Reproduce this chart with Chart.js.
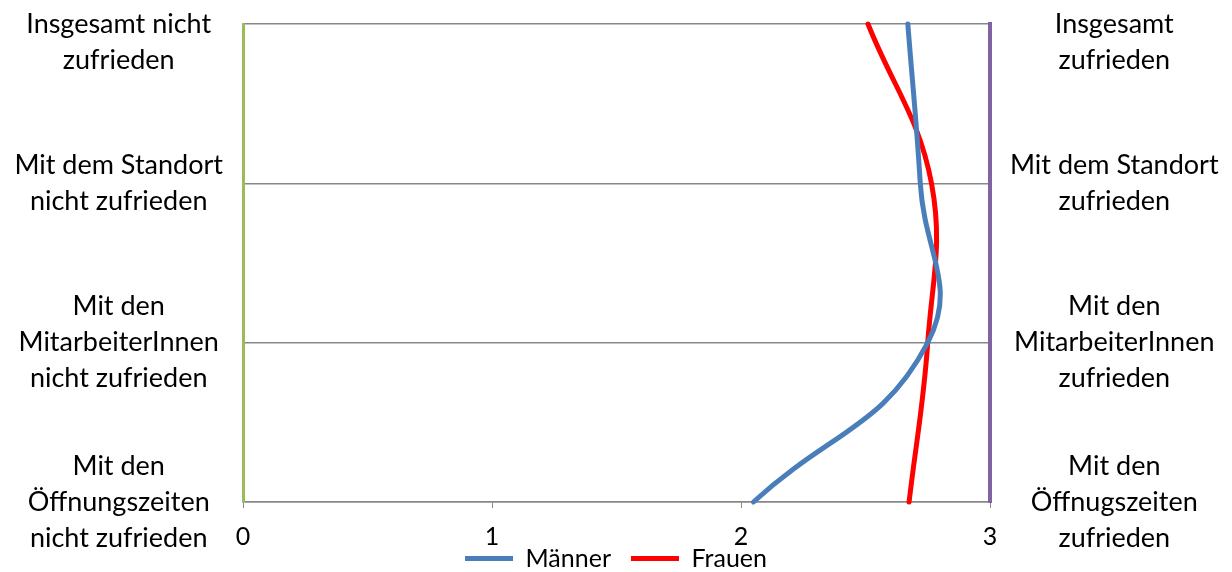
<!DOCTYPE html>
<html>
<head>
<meta charset="utf-8">
<script src="https://cdn.jsdelivr.net/npm/chart.js@4"></script>
<style>
  html, body { margin: 0; padding: 0; background: #fff; }
  #wrap { width: 1232px; height: 572px; }
</style>
</head>
<body>
<div id="wrap"><canvas id="chart"></canvas></div>
<script>
// Beschriftungen links (nicht zufrieden) und rechts (zufrieden)
const linkeLabels = [
    ['', 'Insgesamt nicht', 'zufrieden'],
    ['Mit dem Standort', 'nicht zufrieden'],
    ['Mit den', 'MitarbeiterInnen', 'nicht zufrieden'],
    ['Mit den', 'Öffnungszeiten', 'nicht zufrieden']
];
const rechteLabels = [
    ['', 'Insgesamt', 'zufrieden'],
    ['Mit dem Standort', 'zufrieden'],
    ['Mit den', 'MitarbeiterInnen', 'zufrieden'],
    ['Mit den', 'Öffnugszeiten', 'zufrieden']
];

// Werte (0 = nicht zufrieden ... 3 = zufrieden)
const maenner = [2.67, 2.72, 2.75, 2.05];
const frauen = [2.51, 2.765, 2.75, 2.675];

const xMin = 0;
const xMax = 3;

const schrift = { family: 'Lato', size: 27, lineHeight: '36px' };

// Halbe Labelhöhen nicht als Rand reservieren
function keinPadding(scale) {
    scale.paddingTop = 0;
    scale.paddingBottom = 0;
}

new Chart(document.getElementById('chart'), {
    type: 'line',
    data: {
        labels: linkeLabels,
        datasets: [{
            label: 'Männer',
            data: maenner,
            borderColor: '#4a7ebb',
            backgroundColor: '#4a7ebb',
            borderWidth: 5,
            borderCapStyle: 'round',
            pointRadius: 0,
            tension: 0.45,
            clip: false
        }, {
            label: 'Frauen',
            data: frauen,
            borderColor: '#ff0000',
            backgroundColor: '#ff0000',
            borderWidth: 5,
            borderCapStyle: 'round',
            pointRadius: 0,
            tension: 0.4,
            clip: false
        }]
    },
    options: {
        indexAxis: 'y',
        responsive: true,
        maintainAspectRatio: false,
        animation: false,
        layout: { padding: { top: 24, left: 0, right: 0, bottom: 0 } },
        plugins: {
            tooltip: { enabled: false },
            legend: {
                position: 'bottom',
                maxHeight: 46,
                labels: {
                    usePointStyle: true,
                    pointStyle: 'line',
                    pointStyleWidth: 48,
                    padding: 20,
                    color: '#000',
                    font: { family: 'Lato', size: 25 }
                }
            }
        },
        scales: {
            x: {
                type: 'linear',
                min: xMin,
                max: xMax,
                ticks: {
                    stepSize: 1,
                    color: '#000',
                    mirror: true,
                    padding: -45,
                    font: { family: 'Lato', size: 25, lineHeight: '20px' }
                },
                grid: { drawOnChartArea: false, drawTicks: true, tickLength: 6, color: '#888' },
                border: { color: '#888', width: 1.5 },
                afterFit: function(scale) { scale.height = 24; }
            },
            y: {
                type: 'category',
                position: 'left',
                ticks: { color: '#000', padding: 20, crossAlign: 'center', font: schrift },
                grid: { color: '#888', lineWidth: 1.5, drawTicks: false },
                border: { color: '#9bbb59', width: 3 },
                afterFit: function(scale) { scale.width = 243; keinPadding(scale); }
            },
            y2: {
                type: 'category',
                position: 'right',
                labels: rechteLabels,
                min: 0,
                max: rechteLabels.length - 1,
                ticks: { color: '#000', padding: 20, crossAlign: 'center', font: schrift },
                grid: { display: false, drawTicks: false },
                border: { color: '#8064a2', width: 4 },
                afterFit: function(scale) { scale.width = 242; keinPadding(scale); }
            }
        }
    }
});
</script>
</body>
</html>
